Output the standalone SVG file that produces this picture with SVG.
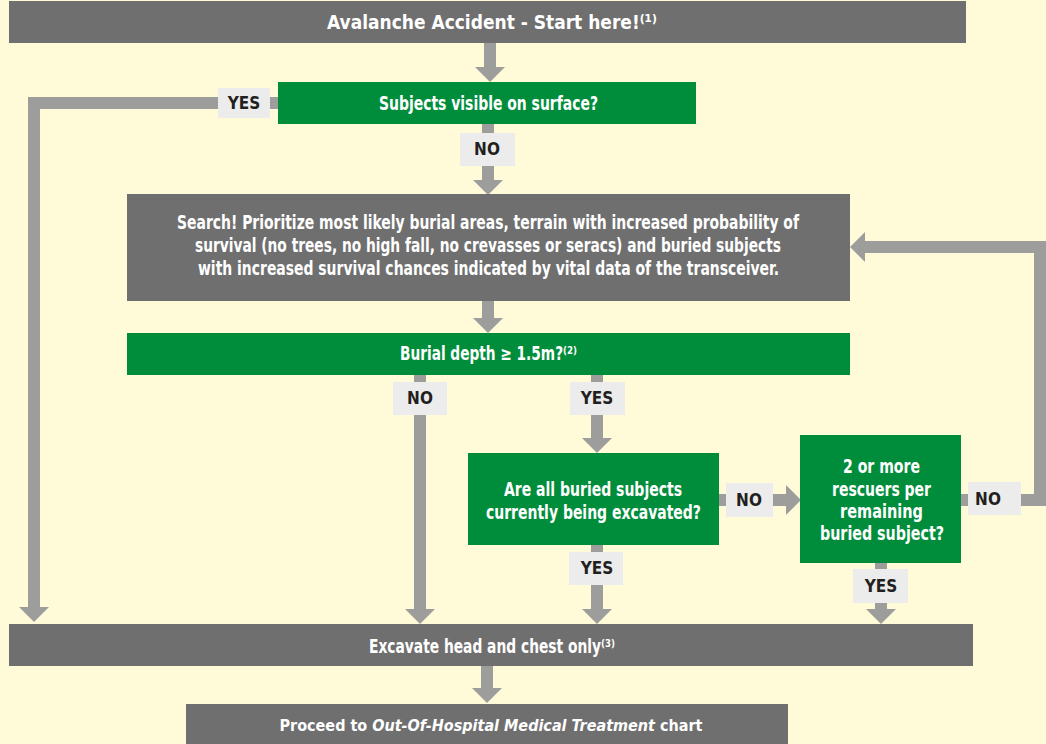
<svg xmlns="http://www.w3.org/2000/svg" width="1046" height="744" viewBox="0 0 1046 744">
<style>
.bg{fill:#fffbd9}
.gray{fill:#706f6f}
.green{fill:#008d3b}
.lbl{fill:#ececec}
.t{font-family:"DejaVu Sans Condensed","Liberation Sans",Arial,sans-serif;font-weight:bold;fill:#ffffff}
.lt{font-family:"DejaVu Sans Condensed","Liberation Sans",Arial,sans-serif;font-weight:bold;fill:#231f20;font-size:17px;text-anchor:middle}
.c{fill:none;stroke:#9d9d9c;stroke-width:12;stroke-linejoin:miter}
</style>
<defs>
<marker id="ah" markerUnits="userSpaceOnUse" markerWidth="16" markerHeight="30" viewBox="0 0 16 30" refX="0" refY="15" orient="auto" overflow="visible">
<path d="M0,0 L15,15 L0,30 z" fill="#9d9d9c"/>
</marker>
</defs>
<rect class="bg" x="0" y="0" width="1046" height="744"/>

<g id="connectors">
<path class="c" d="M490,43 V67" marker-end="url(#ah)"/>
<path class="c" d="M278,103 H34 V607" marker-end="url(#ah)"/>
<path class="c" d="M488,124 V180" marker-end="url(#ah)"/>
<path class="c" d="M488,301 V318" marker-end="url(#ah)"/>
<path class="c" d="M420,375 V609" marker-end="url(#ah)"/>
<path class="c" d="M597,375 V438" marker-end="url(#ah)"/>
<path class="c" d="M597,545 V609" marker-end="url(#ah)"/>
<path class="c" d="M719,500 H786" marker-end="url(#ah)"/>
<path class="c" d="M881,563 V609" marker-end="url(#ah)"/>
<path class="c" d="M961,500 H1040 V247 H865" marker-end="url(#ah)"/>
<path class="c" d="M487,666 V688" marker-end="url(#ah)"/>
</g>

<g id="labels">
<g id="lbl-yes-visible"><rect class="lbl" x="218" y="88" width="52" height="30"/><text class="lt" x="244" y="109">YES</text></g>
<g id="lbl-no-visible"><rect class="lbl" x="460" y="133" width="55" height="33"/><text class="lt" x="487" y="155">NO</text></g>
<g id="lbl-no-depth"><rect class="lbl" x="393" y="382" width="54" height="33"/><text class="lt" x="420" y="404">NO</text></g>
<g id="lbl-yes-depth"><rect class="lbl" x="570" y="382" width="55" height="33"/><text class="lt" x="597" y="404">YES</text></g>
<g id="lbl-no-excavated"><rect class="lbl" x="726" y="483" width="47" height="34"/><text class="lt" x="749" y="506">NO</text></g>
<g id="lbl-no-rescuers"><rect class="lbl" x="968" y="482" width="53" height="33"/><text class="lt" x="988" y="505">NO</text></g>
<g id="lbl-yes-excavated"><rect class="lbl" x="569" y="552" width="54" height="33"/><text class="lt" x="597" y="574">YES</text></g>
<g id="lbl-yes-rescuers"><rect class="lbl" x="853" y="569" width="55" height="34"/><text class="lt" x="881" y="592">YES</text></g>
</g>

<g id="start">
<rect class="gray" x="9" y="1" width="957" height="42"/>
<text class="t" x="327" y="29" font-size="20" textLength="330" lengthAdjust="spacingAndGlyphs">Avalanche Accident - Start here!⁽¹⁾</text>
</g>

<g id="visible">
<rect class="green" x="278" y="82" width="418" height="42"/>
<text class="t" x="379" y="110" font-size="19" textLength="219" lengthAdjust="spacingAndGlyphs">Subjects visible on surface?</text>
</g>

<g id="search">
<rect class="gray" x="127" y="194" width="723" height="107"/>
<text class="t" font-size="19">
<tspan x="177" y="229" textLength="622" lengthAdjust="spacingAndGlyphs">Search! Prioritize most likely burial areas, terrain with increased probability of</tspan>
<tspan x="195" y="252" textLength="586" lengthAdjust="spacingAndGlyphs">survival (no trees, no high fall, no crevasses or seracs) and buried subjects</tspan>
<tspan x="198" y="275" textLength="581" lengthAdjust="spacingAndGlyphs">with increased survival chances indicated by vital data of the transceiver.</tspan>
</text>
</g>

<g id="depth">
<rect class="green" x="127" y="333" width="723" height="42"/>
<text class="t" x="400" y="360" font-size="19" textLength="177" lengthAdjust="spacingAndGlyphs">Burial depth ≥ 1.5m?⁽²⁾</text>
</g>

<g id="excavated">
<rect class="green" x="468" y="453" width="251" height="92"/>
<text class="t" x="504" y="496" font-size="20" textLength="178" lengthAdjust="spacingAndGlyphs">Are all buried subjects</text>
<text class="t" transform="matrix(0.776,0,0,1,486,519)" x="0" y="0" font-size="20" textLength="277" lengthAdjust="spacingAndGlyphs">currently being excavated?</text>
</g>

<g id="rescuers">
<rect class="green" x="800" y="435" width="161" height="128"/>
<text class="t" font-size="19">
<tspan x="843" y="473" textLength="77" lengthAdjust="spacingAndGlyphs">2 or more</tspan>
<tspan x="832" y="496" textLength="99" lengthAdjust="spacingAndGlyphs">rescuers per</tspan>
<tspan x="840" y="518" textLength="83" lengthAdjust="spacingAndGlyphs">remaining</tspan>
<tspan x="820" y="540" textLength="124" lengthAdjust="spacingAndGlyphs">buried subject?</tspan>
</text>
</g>

<g id="excavate">
<rect class="gray" x="9" y="624" width="964" height="42"/>
<text class="t" x="369" y="653" font-size="19" textLength="246" lengthAdjust="spacingAndGlyphs">Excavate head and chest only⁽³⁾</text>
</g>

<g id="proceed">
<rect class="gray" x="186" y="704" width="602" height="40"/>
<text class="t" x="491" y="731" font-size="16" text-anchor="middle">Proceed to <tspan font-style="italic">Out-Of-Hospital Medical Treatment</tspan> chart</text>
</g>
</svg>
